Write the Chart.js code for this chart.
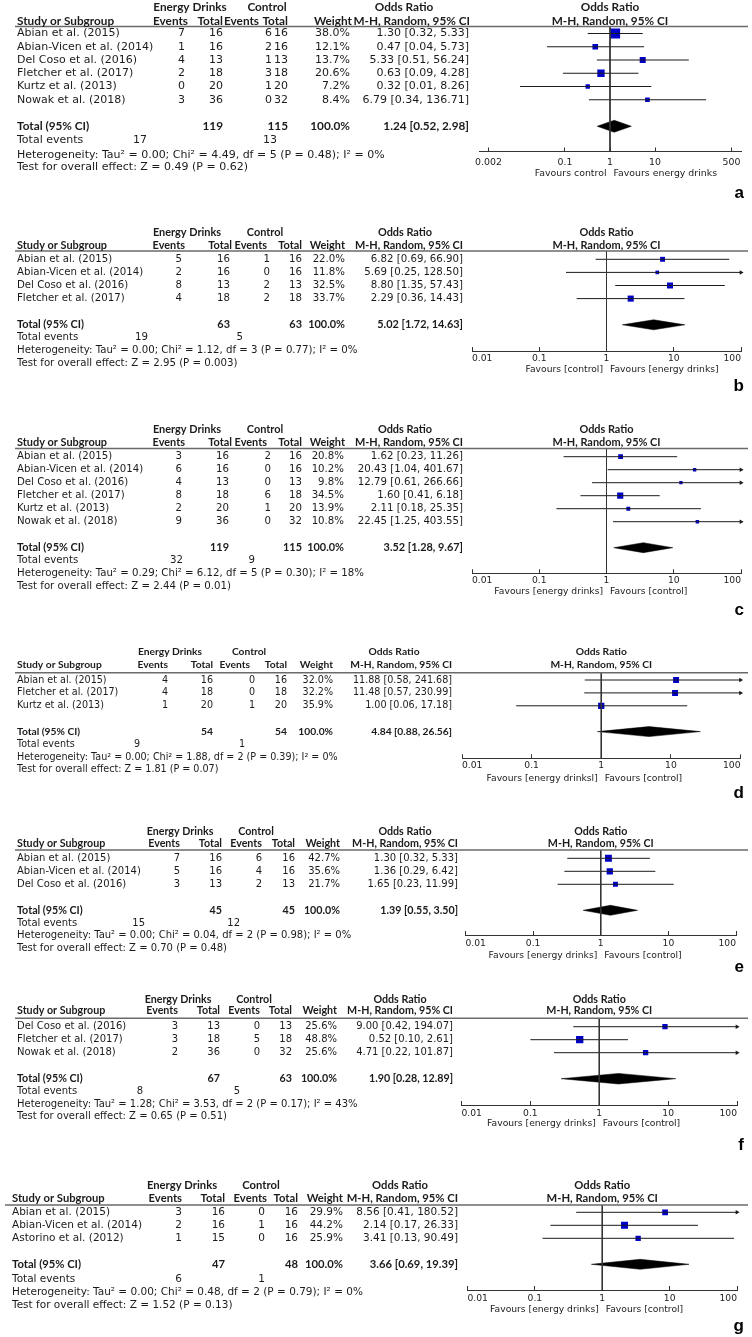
<!DOCTYPE html>
<html lang="en">
<head>
<meta charset="UTF-8">
<title>Forest plots - energy drinks</title>
<script src="https://cdn.jsdelivr.net/npm/chart.js@4"></script>
<style>
  body { margin: 0; background: #fff; }
  #wrap { position: relative; width: 752px; height: 1337px; overflow: hidden; }
  #wrap canvas { position: absolute; left: 0; }
</style>
</head>
<body>
<div id="wrap"></div>
<script>
// ---------- panel a
const aStudies = ['Abian et al. (2015)', 'Abian-Vicen et al. (2014)', 'Del Coso et al. (2016)', 'Fletcher et al. (2017)', 'Kurtz et al. (2013)', 'Nowak et al. (2018)'];
const aEdEvents = [7, 1, 4, 2, 0, 3];
const aEdTotal = [16, 16, 13, 18, 20, 36];
const aCtEvents = [6, 2, 1, 3, 1, 0];
const aCtTotal = [16, 16, 13, 18, 20, 32];
const aWeight = [38.0, 12.1, 13.7, 20.6, 7.2, 8.4];
const aOR = [1.30, 0.47, 5.33, 0.63, 0.32, 6.79];
const aLo = [0.32, 0.04, 0.51, 0.09, 0.01, 0.34];
const aHi = [5.33, 5.73, 56.24, 4.28, 8.26, 136.71];
const aPooled = [1.24, 0.52, 2.98];
const aTotals = [119, 115];
const aEvents = [17, 13];
const aStats = ['Heterogeneity: Tau\u00b2 = 0.00; Chi\u00b2 = 4.49, df = 5 (P = 0.48); I\u00b2 = 0%', 'Test for overall effect: Z = 0.49 (P = 0.62)'];
const aTicks = [0.002, 0.1, 1, 10, 500];
const aTickLabels = ['0.002', '0.1', '1', '10', '500'];
const aFavours = ['Favours control', 'Favours energy drinks'];

// ---------- panel b
const bStudies = ['Abian et al. (2015)', 'Abian-Vicen et al. (2014)', 'Del Coso et al. (2016)', 'Fletcher et al. (2017)'];
const bEdEvents = [5, 2, 8, 4];
const bEdTotal = [16, 16, 13, 18];
const bCtEvents = [1, 0, 2, 2];
const bCtTotal = [16, 16, 13, 18];
const bWeight = [22.0, 11.8, 32.5, 33.7];
const bOR = [6.82, 5.69, 8.80, 2.29];
const bLo = [0.69, 0.25, 1.35, 0.36];
const bHi = [66.90, 128.50, 57.43, 14.43];
const bPooled = [5.02, 1.72, 14.63];
const bTotals = [63, 63];
const bEvents = [19, 5];
const bStats = ['Heterogeneity: Tau\u00b2 = 0.00; Chi\u00b2 = 1.12, df = 3 (P = 0.77); I\u00b2 = 0%', 'Test for overall effect: Z = 2.95 (P = 0.003)'];
const bFavours = ['Favours [control]', 'Favours [energy drinks]'];

// ---------- panel c
const cStudies = ['Abian et al. (2015)', 'Abian-Vicen et al. (2014)', 'Del Coso et al. (2016)', 'Fletcher et al. (2017)', 'Kurtz et al. (2013)', 'Nowak et al. (2018)'];
const cEdEvents = [3, 6, 4, 8, 2, 9];
const cEdTotal = [16, 16, 13, 18, 20, 36];
const cCtEvents = [2, 0, 0, 6, 1, 0];
const cCtTotal = [16, 16, 13, 18, 20, 32];
const cWeight = [20.8, 10.2, 9.8, 34.5, 13.9, 10.8];
const cOR = [1.62, 20.43, 12.79, 1.60, 2.11, 22.45];
const cLo = [0.23, 1.04, 0.61, 0.41, 0.18, 1.25];
const cHi = [11.26, 401.67, 266.66, 6.18, 25.35, 403.55];
const cPooled = [3.52, 1.28, 9.67];
const cTotals = [119, 115];
const cEvents = [32, 9];
const cStats = ['Heterogeneity: Tau\u00b2 = 0.29; Chi\u00b2 = 6.12, df = 5 (P = 0.30); I\u00b2 = 18%', 'Test for overall effect: Z = 2.44 (P = 0.01)'];
const cFavours = ['Favours [energy drinks]', 'Favours [control]'];

// ---------- panel d
const dStudies = ['Abian et al. (2015)', 'Fletcher et al. (2017)', 'Kurtz et al. (2013)'];
const dEdEvents = [4, 4, 1];
const dEdTotal = [16, 18, 20];
const dCtEvents = [0, 0, 1];
const dCtTotal = [16, 18, 20];
const dWeight = [32.0, 32.2, 35.9];
const dOR = [11.88, 11.48, 1.00];
const dLo = [0.58, 0.57, 0.06];
const dHi = [241.68, 230.99, 17.18];
const dPooled = [4.84, 0.88, 26.56];
const dTotals = [54, 54];
const dEvents = [9, 1];
const dStats = ['Heterogeneity: Tau\u00b2 = 0.00; Chi\u00b2 = 1.88, df = 2 (P = 0.39); I\u00b2 = 0%', 'Test for overall effect: Z = 1.81 (P = 0.07)'];
const dFavours = ['Favours [energy drinksl]', 'Favours [control]'];

// ---------- panel e
const eStudies = ['Abian et al. (2015)', 'Abian-Vicen et al. (2014)', 'Del Coso et al. (2016)'];
const eEdEvents = [7, 5, 3];
const eEdTotal = [16, 16, 13];
const eCtEvents = [6, 4, 2];
const eCtTotal = [16, 16, 13];
const eWeight = [42.7, 35.6, 21.7];
const eOR = [1.30, 1.36, 1.65];
const eLo = [0.32, 0.29, 0.23];
const eHi = [5.33, 6.42, 11.99];
const ePooled = [1.39, 0.55, 3.50];
const eTotals = [45, 45];
const eEvents = [15, 12];
const eStats = ['Heterogeneity: Tau\u00b2 = 0.00; Chi\u00b2 = 0.04, df = 2 (P = 0.98); I\u00b2 = 0%', 'Test for overall effect: Z = 0.70 (P = 0.48)'];
const eFavours = ['Favours [energy drinks]', 'Favours [control]'];

// ---------- panel f
const fStudies = ['Del Coso et al. (2016)', 'Fletcher et al. (2017)', 'Nowak et al. (2018)'];
const fEdEvents = [3, 3, 2];
const fEdTotal = [13, 18, 36];
const fCtEvents = [0, 5, 0];
const fCtTotal = [13, 18, 32];
const fWeight = [25.6, 48.8, 25.6];
const fOR = [9.00, 0.52, 4.71];
const fLo = [0.42, 0.10, 0.22];
const fHi = [194.07, 2.61, 101.87];
const fPooled = [1.90, 0.28, 12.89];
const fTotals = [67, 63];
const fEvents = [8, 5];
const fStats = ['Heterogeneity: Tau\u00b2 = 1.28; Chi\u00b2 = 3.53, df = 2 (P = 0.17); I\u00b2 = 43%', 'Test for overall effect: Z = 0.65 (P = 0.51)'];
const fFavours = ['Favours [energy drinks]', 'Favours [control]'];

// ---------- panel g
const gStudies = ['Abian et al. (2015)', 'Abian-Vicen et al. (2014)', 'Astorino et al. (2012)'];
const gEdEvents = [3, 2, 1];
const gEdTotal = [16, 16, 15];
const gCtEvents = [0, 1, 0];
const gCtTotal = [16, 16, 16];
const gWeight = [29.9, 44.2, 25.9];
const gOR = [8.56, 2.14, 3.41];
const gLo = [0.41, 0.17, 0.13];
const gHi = [180.52, 26.33, 90.49];
const gPooled = [3.66, 0.69, 19.39];
const gTotals = [47, 48];
const gEvents = [6, 1];
const gStats = ['Heterogeneity: Tau\u00b2 = 0.00; Chi\u00b2 = 0.48, df = 2 (P = 0.79); I\u00b2 = 0%', 'Test for overall effect: Z = 1.52 (P = 0.13)'];
const gFavours = ['Favours [energy drinks]', 'Favours [control]'];

// shared tick set for panels b-g
const stdTicks = [0.01, 0.1, 1, 10, 100];
const stdTickLabels = ['0.01', '0.1', '1', '10', '100'];

const FONT = '"DejaVu Sans", Verdana, sans-serif';
const BOLD_FONT = 'Lato, "Liberation Sans", sans-serif';
const BOLD_SCALE = 1.07; // Lato runs small next to DejaVu
const INK = '#1b1b1b';
const BLUE = '#0000c8';

// page geometry of every panel (page pixels)
// cols = value right edges: ed events, ed total, ctl events, ctl total, weight, OR
// hdr = header right edges (same order), h1 = centres of Energy Drinks / Control / Odds Ratio
const layouts = [
  { letter: 'a', top: 0, bottom: 205, fs: 11, tfs: 9.4, talign: 'center', sx: 17, lineL: 15,
    hdr1: 6.7, hdr2: 20.7, under: 26.5, row0: 33.5, sp: 13.25, axisY: 151.5, tickOff: 11, favY: 174, letY: 193,
    foot: [14, 28.5, 40.5], axL: 479, axR: 741, xmin: 0.00123, xmax: 813, box: 1.62, dia: 6,
    cols: [185, 223, 272, 288, 350, 469], hdr: [188, 223, 259, 288, 352, 470], h1: [190, 267, 404], ev: [147, 277] },
  { letter: 'b', top: 205, bottom: 405, fs: 10.2, tfs: 9.2, talign: 'inner', sx: 17, lineL: 15,
    hdr1: 232.7, hdr2: 245.7, under: 251, row0: 259.3, sp: 13.1, axisY: 351, tickOff: 8, favY: 369.3, letY: 386.7,
    foot: [13, 26, 39], axL: 472, axR: 741, xmin: 0.01, xmax: 100, box: 1.05, dia: 5,
    cols: [182, 230, 270, 302, 345, 463], hdr: [185, 232, 267, 302, 345, 463], h1: [187, 265, 405], ev: [148, 243] },
  { letter: 'c', top: 405, bottom: 625, fs: 10.2, tfs: 9.2, talign: 'inner', sx: 17, lineL: 15,
    hdr1: 429.3, hdr2: 442.7, under: 448.5, row0: 456.7, sp: 13, axisY: 573.3, tickOff: 7.7, favY: 591.7, letY: 610.7,
    foot: [13, 25.6, 39], axL: 472, axR: 741, xmin: 0.01, xmax: 100, box: 1.05, dia: 5,
    cols: [182, 229, 271, 302, 344, 463], hdr: [185, 232, 267, 302, 345, 463], h1: [187, 265, 405], ev: [183, 255] },
  { letter: 'd', top: 625, bottom: 805, fs: 9.6, tfs: 9.2, talign: 'inner', sx: 17, lineL: 15,
    hdr1: 651.7, hdr2: 665, under: 672.7, row0: 680, sp: 12.9, axisY: 758.3, tickOff: 7, favY: 778.3, letY: 793.3,
    foot: [13, 25.5, 38], axL: 462, axR: 740.5, xmin: 0.01, xmax: 100, box: 1.05, dia: 5,
    cols: [168, 213, 255, 287, 333, 452], hdr: [168, 213, 250, 287, 333, 452], h1: [170, 249, 394], ev: [140, 245] },
  { letter: 'e', top: 805, bottom: 975, fs: 10, tfs: 9.2, talign: 'inner', sx: 17, lineL: 15,
    hdr1: 831.7, hdr2: 844, under: 850, row0: 858.3, sp: 13, axisY: 935, tickOff: 9, favY: 956, letY: 967.3,
    foot: [13, 25.5, 38], axL: 465.5, axR: 736, xmin: 0.01, xmax: 100, box: 1.05, dia: 5,
    cols: [180, 222, 262, 295, 340, 458], hdr: [180, 222, 262, 295, 340, 458], h1: [180, 256, 405], ev: [145, 240] },
  { letter: 'f', top: 975, bottom: 1158, fs: 10, tfs: 9.2, talign: 'inner', sx: 17, lineL: 15,
    hdr1: 999.3, hdr2: 1011, under: 1018.3, row0: 1026.7, sp: 13, axisY: 1105, tickOff: 8.3, favY: 1124, letY: 1145,
    foot: [13, 25.5, 38], axL: 461.5, axR: 737, xmin: 0.01, xmax: 100, box: 1.05, dia: 5.3,
    cols: [178, 220, 260, 292, 337, 453], hdr: [178, 220, 260, 292, 337, 453], h1: [178, 254, 400], ev: [143, 240] },
  { letter: 'g', top: 1158, bottom: 1337, fs: 10.5, tfs: 9.2, talign: 'inner', sx: 12, lineL: 5,
    hdr1: 1185, hdr2: 1198.3, under: 1205, row0: 1212.3, sp: 13, axisY: 1290, tickOff: 8.3, favY: 1309.3, letY: 1326.7,
    foot: [15, 28.4, 41], axL: 467.5, axR: 737, xmin: 0.01, xmax: 100, box: 1.05, dia: 5,
    cols: [182, 225, 265, 298, 343, 458], hdr: [182, 225, 267, 298, 343, 458], h1: [182, 261, 400], ev: [182, 265] }
];

const panels = [
  { studies: aStudies, edEv: aEdEvents, edTot: aEdTotal, ctEv: aCtEvents, ctTot: aCtTotal, weight: aWeight, or: aOR, lo: aLo, hi: aHi, pooled: aPooled, totals: aTotals, events: aEvents, stats: aStats, ticks: aTicks, tickLabels: aTickLabels, favours: aFavours },
  { studies: bStudies, edEv: bEdEvents, edTot: bEdTotal, ctEv: bCtEvents, ctTot: bCtTotal, weight: bWeight, or: bOR, lo: bLo, hi: bHi, pooled: bPooled, totals: bTotals, events: bEvents, stats: bStats, ticks: stdTicks, tickLabels: stdTickLabels, favours: bFavours },
  { studies: cStudies, edEv: cEdEvents, edTot: cEdTotal, ctEv: cCtEvents, ctTot: cCtTotal, weight: cWeight, or: cOR, lo: cLo, hi: cHi, pooled: cPooled, totals: cTotals, events: cEvents, stats: cStats, ticks: stdTicks, tickLabels: stdTickLabels, favours: cFavours },
  { studies: dStudies, edEv: dEdEvents, edTot: dEdTotal, ctEv: dCtEvents, ctTot: dCtTotal, weight: dWeight, or: dOR, lo: dLo, hi: dHi, pooled: dPooled, totals: dTotals, events: dEvents, stats: dStats, ticks: stdTicks, tickLabels: stdTickLabels, favours: dFavours },
  { studies: eStudies, edEv: eEdEvents, edTot: eEdTotal, ctEv: eCtEvents, ctTot: eCtTotal, weight: eWeight, or: eOR, lo: eLo, hi: eHi, pooled: ePooled, totals: eTotals, events: eEvents, stats: eStats, ticks: stdTicks, tickLabels: stdTickLabels, favours: eFavours },
  { studies: fStudies, edEv: fEdEvents, edTot: fEdTotal, ctEv: fCtEvents, ctTot: fCtTotal, weight: fWeight, or: fOR, lo: fLo, hi: fHi, pooled: fPooled, totals: fTotals, events: fEvents, stats: fStats, ticks: stdTicks, tickLabels: stdTickLabels, favours: fFavours },
  { studies: gStudies, edEv: gEdEvents, edTot: gEdTotal, ctEv: gCtEvents, ctTot: gCtTotal, weight: gWeight, or: gOR, lo: gLo, hi: gHi, pooled: gPooled, totals: gTotals, events: gEvents, stats: gStats, ticks: stdTicks, tickLabels: stdTickLabels, favours: gFavours }
];

const wrap = document.getElementById('wrap');
const AXH = 20; // fixed height given to the x axis box

function ciText(o, l, h) {
  return o.toFixed(2) + ' [' + l.toFixed(2) + ', ' + h.toFixed(2) + ']';
}

function drawPanel(d, L) {
  const n = d.studies.length;
  const totRow = n + 1;
  const H = L.bottom - L.top;
  const yMin = (L.under - L.row0) / L.sp;
  const yMax = (L.axisY - L.row0) / L.sp;
  const h = L.dia / L.sp;

  const canvas = document.createElement('canvas');
  canvas.width = 752;
  canvas.height = H;
  canvas.style.top = L.top + 'px';
  wrap.appendChild(canvas);

  const datasets = [];
  // line of no effect
  datasets.push({ data: [{ x: 1, y: yMin }, { x: 1, y: yMax }], showLine: true, borderColor: '#333', borderWidth: 1, pointRadius: 0 });
  // confidence intervals
  d.lo.forEach((lo, i) => {
    datasets.push({ data: [{ x: lo, y: i }, { x: d.hi[i], y: i }], showLine: true, borderColor: INK, borderWidth: 1, pointRadius: 0 });
  });
  // arrow heads where the CI runs off the scale
  const arrows = [];
  d.hi.forEach((hi, i) => { if (hi > L.xmax) arrows.push({ x: L.xmax, y: i }); });
  datasets.push({ data: arrows, pointStyle: 'triangle', pointRotation: 90, pointRadius: 2.6, pointBackgroundColor: INK, pointBorderWidth: 0, clip: false });
  // study estimates, box area ~ weight
  datasets.push({
    data: d.or.map((v, i) => ({ x: v, y: i })),
    pointStyle: 'rect',
    pointRadius: d.weight.map(w => L.box * Math.sqrt(w) / 1.414),
    pointBackgroundColor: BLUE, pointBorderWidth: 0
  });
  // pooled diamond
  const p = d.pooled;
  datasets.push({
    data: [{ x: p[1], y: totRow }, { x: p[0], y: totRow - h }, { x: p[2], y: totRow }, { x: p[0], y: totRow + h }, { x: p[1], y: totRow }],
    showLine: true, fill: 'shape', backgroundColor: '#000', borderColor: '#000', borderWidth: 0.5, pointRadius: 0
  });

  const tablePlugin = {
    id: 'table' + L.letter,
    afterDraw(chart) {
      const { ctx, chartArea: ca, scales: { x, y } } = chart;
      const Y = v => v - L.top;
      const put = (s, px, py, align, bold, size) => {
        const sz = size || L.fs;
        ctx.font = bold ? 'bold ' + (sz * BOLD_SCALE).toFixed(2) + 'px ' + BOLD_FONT : sz + 'px ' + FONT;
        ctx.textAlign = align;
        ctx.fillText(s, px, py);
      };
      ctx.save();
      ctx.fillStyle = INK;
      ctx.textBaseline = 'middle';

      // header rule
      ctx.strokeStyle = '#6a6a6a';
      ctx.lineWidth = 1.5;
      ctx.beginPath();
      ctx.moveTo(L.lineL, ca.top);
      ctx.lineTo(748, ca.top);
      ctx.stroke();

      const mid = (ca.left + ca.right) / 2;
      put('Energy Drinks', L.h1[0], Y(L.hdr1), 'center', true);
      put('Control', L.h1[1], Y(L.hdr1), 'center', true);
      put('Odds Ratio', L.h1[2], Y(L.hdr1), 'center', true);
      put('Odds Ratio', mid, Y(L.hdr1), 'center', true);
      put('Study or Subgroup', L.sx, Y(L.hdr2), 'left', true);
      ['Events', 'Total', 'Events', 'Total', 'Weight', 'M-H, Random, 95% CI'].forEach((s, k) => put(s, L.hdr[k], Y(L.hdr2), 'right', true));
      put('M-H, Random, 95% CI', mid, Y(L.hdr2), 'center', true);

      d.studies.forEach((s, i) => {
        const py = y.getPixelForValue(i);
        put(s, L.sx, py, 'left', false);
        put(String(d.edEv[i]), L.cols[0], py, 'right', false);
        put(String(d.edTot[i]), L.cols[1], py, 'right', false);
        put(String(d.ctEv[i]), L.cols[2], py, 'right', false);
        put(String(d.ctTot[i]), L.cols[3], py, 'right', false);
        put(d.weight[i].toFixed(1) + '%', L.cols[4], py, 'right', false);
        put(ciText(d.or[i], d.lo[i], d.hi[i]), L.cols[5], py, 'right', false);
      });

      const ty = y.getPixelForValue(totRow);
      put('Total (95% CI)', L.sx, ty, 'left', true);
      put(String(d.totals[0]), L.cols[1], ty, 'right', true);
      put(String(d.totals[1]), L.cols[3], ty, 'right', true);
      put('100.0%', L.cols[4], ty, 'right', true);
      put(ciText(p[0], p[1], p[2]), L.cols[5], ty, 'right', true);

      put('Total events', L.sx, ty + L.foot[0], 'left', false);
      put(String(d.events[0]), L.ev[0], ty + L.foot[0], 'right', false);
      put(String(d.events[1]), L.ev[1], ty + L.foot[0], 'right', false);
      put(d.stats[0], L.sx, ty + L.foot[1], 'left', false);
      put(d.stats[1], L.sx, ty + L.foot[2], 'left', false);

      const one = x.getPixelForValue(1);
      put(d.favours[0], one - 3.5, Y(L.favY), 'right', false, L.tfs);
      put(d.favours[1], one + 3.5, Y(L.favY), 'left', false, L.tfs);

      ctx.font = 'bold 17px "Liberation Sans", Arial, sans-serif';
      ctx.textAlign = 'right';
      ctx.fillStyle = '#000';
      ctx.fillText(L.letter, 744, Y(L.letY));
      ctx.restore();
    }
  };

  new Chart(canvas.getContext('2d'), {
    type: 'scatter',
    data: { datasets },
    options: {
      responsive: false,
      animation: false,
      events: [],
      layout: { padding: { left: L.axL, right: 752 - L.axR, top: L.under - L.top, bottom: H - (L.axisY - L.top) - AXH } },
      scales: {
        x: {
          type: 'logarithmic',
          bounds: 'data',
          min: L.xmin,
          max: L.xmax,
          afterFit: s => { s.height = AXH; },
          afterBuildTicks: s => { s.ticks = d.ticks.map(v => ({ value: v })); },
          ticks: {
            autoSkip: false,
            maxRotation: 0,
            align: L.talign,
            padding: L.tickOff + 4 - 0.6 * L.tfs,
            color: '#222',
            font: { family: FONT, size: L.tfs },
            callback: (v, i) => d.tickLabels[i]
          },
          grid: { drawOnChartArea: false, tickLength: -4, color: '#333', tickColor: '#333' },
          border: { display: true, color: '#333', width: 1 }
        },
        y: { type: 'linear', display: false, reverse: true, bounds: 'data', min: yMin, max: yMax }
      },
      plugins: { legend: { display: false }, tooltip: { enabled: false } }
    },
    plugins: [tablePlugin]
  });
}

layouts.forEach((L, k) => drawPanel(panels[k], L));
</script>
</body>
</html>
